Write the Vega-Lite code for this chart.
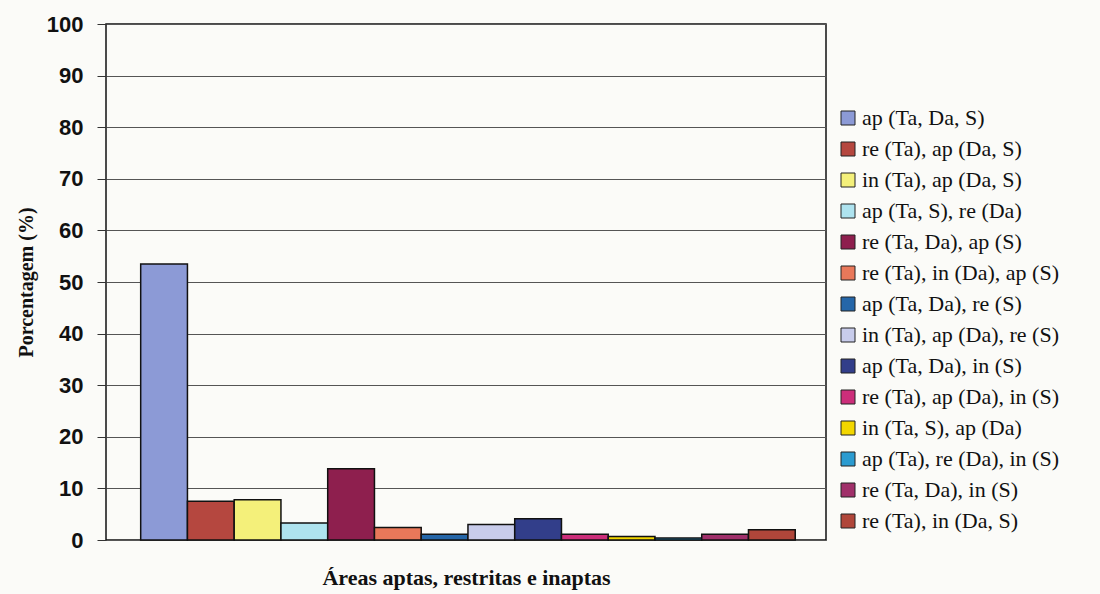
{
  "$schema": "https://vega.github.io/schema/vega-lite/v6.json",
  "autosize": "none",
  "width": 720,
  "height": 516,
  "padding": {"left": 106, "top": 24, "right": 274, "bottom": 54},
  "background": "#FBFBF8",
  "config": {
    "view": {"stroke": "#111111", "strokeWidth": 1.5},
    "axis": {"gridColor": "#555555", "gridWidth": 1.2, "domainColor": "#111111"}
  },
  "data": {
    "values": [
      {"cat": "ap (Ta, Da, S)", "order": 1, "pct": 53.5},
      {"cat": "re (Ta), ap (Da, S)", "order": 2, "pct": 7.5},
      {"cat": "in (Ta), ap (Da, S)", "order": 3, "pct": 7.8},
      {"cat": "ap (Ta, S), re (Da)", "order": 4, "pct": 3.3},
      {"cat": "re (Ta, Da), ap (S)", "order": 5, "pct": 13.8},
      {"cat": "re (Ta), in (Da), ap (S)", "order": 6, "pct": 2.4},
      {"cat": "ap (Ta, Da), re (S)", "order": 7, "pct": 1.1},
      {"cat": "in (Ta), ap (Da), re (S)", "order": 8, "pct": 3.0},
      {"cat": "ap (Ta, Da), in (S)", "order": 9, "pct": 4.1},
      {"cat": "re (Ta), ap (Da), in (S)", "order": 10, "pct": 1.1},
      {"cat": "in (Ta, S), ap (Da)", "order": 11, "pct": 0.7},
      {"cat": "ap (Ta), re (Da), in (S)", "order": 12, "pct": 0.4},
      {"cat": "re (Ta, Da), in (S)", "order": 13, "pct": 1.1},
      {"cat": "re (Ta), in (Da, S)", "order": 14, "pct": 2.0}
    ]
  },
  "mark": {"type": "bar", "stroke": "#111111", "strokeWidth": 1.5},
  "encoding": {
    "x": {
      "field": "cat",
      "type": "nominal",
      "sort": {"field": "order"},
      "scale": {"paddingInner": 0, "paddingOuter": 0.7, "align": 0.53},
      "axis": {
        "labels": false,
        "ticks": false,
        "domain": false,
        "title": "Áreas aptas, restritas e inaptas",
        "titleFont": "Liberation Serif, Times New Roman, serif",
        "titleFontSize": 22,
        "titleFontWeight": "bold",
        "titleColor": "#111111",
        "titlePadding": 27
      }
    },
    "y": {
      "field": "pct",
      "type": "quantitative",
      "scale": {"domain": [0, 100], "nice": false},
      "axis": {
        "values": [0, 10, 20, 30, 40, 50, 60, 70, 80, 90, 100],
        "tickSize": 9,
        "tickColor": "#333333",
        "labelPadding": 14,
        "labelFont": "Liberation Sans, Arial, sans-serif",
        "labelFontSize": 22,
        "labelFontWeight": "bold",
        "labelColor": "#111111",
        "domain": false,
        "title": "Porcentagem (%)",
        "titleFont": "Liberation Serif, Times New Roman, serif",
        "titleFontSize": 20,
        "titleFontWeight": "bold",
        "titleColor": "#111111",
        "titlePadding": 10
      }
    },
    "color": {
      "field": "cat",
      "type": "nominal",
      "sort": {"field": "order"},
      "scale": {
        "range": ["#8C9AD6", "#B5473F", "#F4F07A", "#AEE3EF", "#8E1F4E", "#E9785A", "#2566A8", "#C8CCEB", "#323E8A", "#CC2E7A", "#F2D600", "#2B9BD0", "#A0306A", "#B0463A"]
      },
      "legend": {
        "orient": "none",
        "legendX": 731,
        "legendY": 83,
        "title": null,
        "symbolType": "square",
        "symbolSize": 196,
        "symbolStrokeColor": "#222222",
        "symbolStrokeWidth": 1,
        "labelFont": "Liberation Serif, Times New Roman, serif",
        "labelFontSize": 22,
        "labelColor": "#111111",
        "labelOffset": 3,
        "labelLimit": 300,
        "rowPadding": 9
      }
    }
  }
}
